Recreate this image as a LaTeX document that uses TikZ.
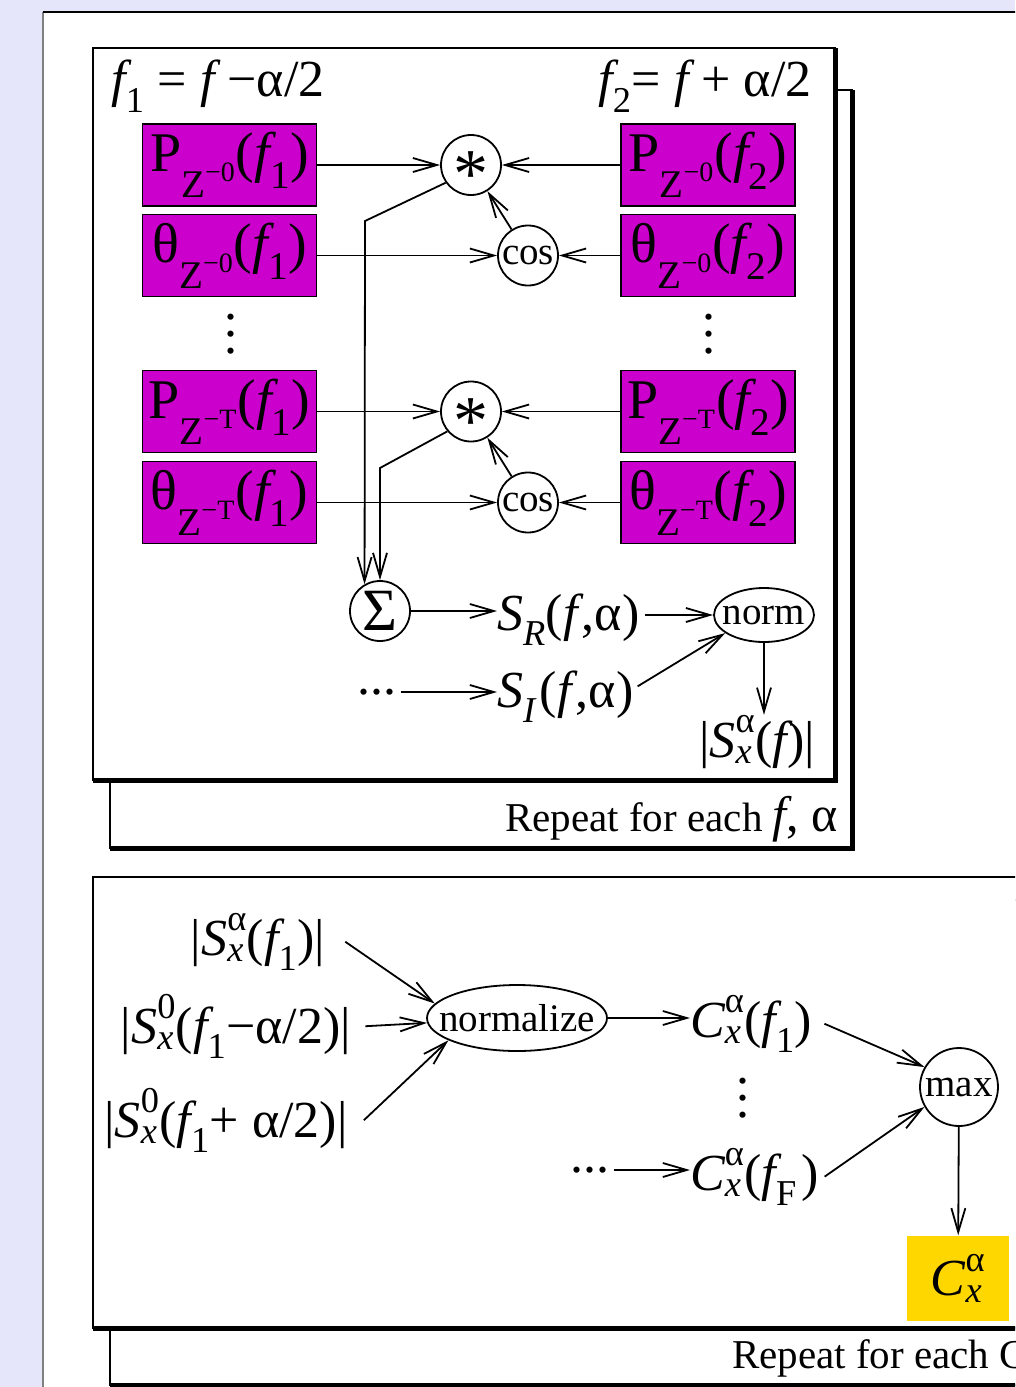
\documentclass[tikz,border=0pt]{standalone}
\usepackage{amsmath}
\usepackage{fontspec}
\setmainfont{Liberation Serif}
\usetikzlibrary{arrows.meta, positioning, shapes.geometric}

\definecolor{slidebg}{RGB}{230,230,250}
\definecolor{boxmag}{RGB}{204,0,204}
\definecolor{boxgold}{RGB}{255,215,0}

\newcommand{\vi}[1]{\text{\itshape #1}}
\newcommand{\vr}[1]{\text{\upshape #1}}
\newcommand{\vdts}{\vbox{\baselineskip=17pt\lineskiplimit=0pt\hbox{.}\hbox{.}\hbox{.}}}
\newcommand{\hdts}{...}
\newcommand{\astk}{\fontsize{70}{72}\selectfont\smash{\raisebox{-0.47em}{*}}}

\tikzset{
  bigtxt/.style={font=\fontsize{52}{60}\selectfont, inner sep=0pt},
  smalltxt/.style={font=\fontsize{39}{44}\selectfont},
  magbox/.style={draw, fill=boxmag, line width=1.8pt, minimum width=174pt, minimum height=82pt, bigtxt, font=\fontsize{56}{60}\selectfont},
  opcirc/.style={draw, circle, line width=1.8pt, minimum size=60pt, inner sep=0pt, smalltxt},
  opoval/.style={draw, ellipse, line width=1.8pt, inner sep=0pt},
  flow/.style={-{Straight Barb[length=24pt,width=14pt]}, line width=1.8pt},
  sheet/.style={line width=2pt},
  sheetedge/.style={line width=5pt},
}

\begin{document}
\begin{tikzpicture}[x=1pt, y=-1pt]
\useasboundingbox (0,0) rectangle (1015,1387);
\clip (0,0) rectangle (1015,1387);
% slide background
\fill[slidebg] (0,0) rectangle (1015,1387);
\fill[white] (43,12) rectangle (1030,1400);
\draw[gray, line width=1.5pt] (43,1400) -- (43,12);
\draw[line width=2pt] (43,12) -- (1030,12);

% upper sheet stack
\draw[sheet, fill=white] (110,90) rectangle (852,848);
\draw[sheetedge] (852,90) -- (852,848) -- (110,848);
\draw[sheet, fill=white] (93,48) rectangle (835,780);
\draw[sheetedge] (835,48) -- (835,780) -- (93,780);

% lower sheet stack
\draw[sheet, fill=white] (110,900) rectangle (1100,1385);
\draw[sheetedge] (110,1385) -- (1100,1385);
\draw[sheet, fill=white] (93,877) rectangle (1100,1328);
\draw[sheetedge] (93,1328) -- (1100,1328);

% frequency definitions
\node[bigtxt] (f1def) at (218,86) {$\vi{f}_{\vr{1}}\vr{ = }\vi{f}\vr{ −α/2}$};
\node[bigtxt] (f2def) at (705,86) {$\vi{f}_{\vr{2}}\vr{= }\vi{f}\vr{ + α/2}$};

% magnitude and phase boxes
\foreach \nm/\yy/\sym/\idx in {pa/165/P/0, ta/255.5/θ/0, pb/411.5/P/T, tb/502.5/θ/T}{
  \node[magbox] (\nm1) at (229.5,\yy) {$\vr{\sym}_{\vr{Z}^{\vr{−\idx}}}\vr{(}\vi{f}_{\vr{1}}\vr{)}$};
  \node[magbox] (\nm2) at (708,\yy) {$\vr{\sym}_{\vr{Z}^{\vr{−\idx}}}\vr{(}\vi{f}_{\vr{2}}\vr{)}$};
}
\node[bigtxt] (vdl) at (231,334) {\vdts};
\node[bigtxt] (vdr) at (709,334) {\vdts};

% products
\node[opcirc] (mula) at (471,165) {\astk};
\node[opcirc] (cosa) at (528,255.5) {cos};
\node[opcirc] (mulb) at (471,411.5) {\astk};
\node[opcirc] (cosb) at (528,502.5) {cos};
\foreach \s in {a,b}{
  \draw[flow] (p\s1) -- (mul\s);
  \draw[flow] (p\s2) -- (mul\s);
  \draw[flow] (t\s1) -- (cos\s);
  \draw[flow] (t\s2) -- (cos\s);
  \draw[flow] (cos\s) -- (mul\s);
}

% sum and norm
\node[opcirc, font=\fontsize{60}{64}\selectfont] (sum) at (380,611) {Σ};
\coordinate (benda) at (365,221);
\coordinate (bendb) at (380,468);
\draw[flow] (mula.215) -- (benda) -- (sum.120);
\draw[flow] (mulb.220) -- (bendb) -- (sum.north);

\node[bigtxt, anchor=base west] (sr) at (497,630) {$\vi{S}_{\vi{R}}\vr{(}\vi{f}\,\vr{,α)}$};
\node[bigtxt, anchor=base west] (si) at (497,707) {$\vi{S}_{\vi{I}}\,\vr{(}\vi{f}\,\vr{,α)}$};
\node[bigtxt] (dotsi) at (377,692) {\hdts};
\node[opoval, minimum width=100pt, minimum height=54pt, label={[smalltxt]center:norm}] (norm) at (764,615) {};
\node[bigtxt, anchor=base] (sxf) at (757,757) {$\vr{|}\vi{S}^{\vr{α}}_{\vi{x}}\vr{(}\vi{f}\vr{)|}$};
\node[anchor=base east, inner sep=0pt] (rep1) at (838,831) {\fontsize{41}{48}\selectfont Repeat for each \fontsize{50}{56}\selectfont\textit{f}, α};

\draw[flow] (sum) -- (sum -| sr.west);
\draw[flow, shorten <=4pt] (dotsi.east) -- (dotsi.east -| si.west);
\draw[flow, shorten <=5pt] (norm.west -| sr.east) -- (norm.west);
\draw[flow] ([xshift=4pt,yshift=10pt]si.east) -- (norm.205);
\draw[flow] (norm.south) -- (norm.south |- sxf.north);

% normalisation and maximum
\node[bigtxt, anchor=base] (sa) at (258,955) {$\vr{|}\vi{S}^{\vr{α}}_{\vi{x}}\vr{(}\vi{f}_{\vr{1}}\vr{)|}$};
\node[bigtxt, anchor=base] (sm) at (236,1043) {$\vr{|}\vi{S}^{\vr{0}}_{\vi{x}}\vr{(}\vi{f}_{\vr{1}}\vr{−α/2)|}$};
\node[bigtxt, anchor=base] (sp) at (226,1137) {$\vr{|}\vi{S}^{\vr{0}}_{\vi{x}}\vr{(}\vi{f}_{\vr{1}}\vr{+ α/2)|}$};
\node[opoval, minimum width=180pt, minimum height=66pt, label={[smalltxt]center:normalize}] (nrm) at (517,1018) {};
\node[bigtxt, anchor=base west] (cf1) at (690,1037) {$\vi{C}^{\vr{α}}_{\vi{x}}\vr{(}\vi{f}_{\vr{1}}\vr{)}$};
\node[bigtxt] (vdc) at (743,1098) {\vdts};
\node[bigtxt] (dotsf) at (590,1170) {\hdts};
\node[bigtxt, anchor=base west] (cff) at (690,1190) {$\vi{C}^{\vr{α}}_{\vi{x}}\vr{(}\vi{f}_{\vr{F}}\,\vr{)}$};
\node[opcirc, minimum size=78pt] (max) at (959,1087) {max};
\node[fill=boxgold, minimum width=102pt, minimum height=85pt, bigtxt] (cx) at (958,1278) {$\vi{C}^{\vr{α}}_{\vi{x}}$};
\node[anchor=base west, inner sep=0pt] (rep2) at (732,1368) {\fontsize{41}{48}\selectfont Repeat for each C};

\draw[flow] ([xshift=20pt]sa.east) -- (nrm.170);
\draw[flow] ([xshift=14pt]sm.east) -- (nrm);
\draw[flow] ([xshift=16pt]sp.east) -- (nrm.198);
\draw[flow] (nrm.east) -- (nrm.east -| cf1.west);
\draw[flow, shorten <=4pt] (dotsf.east) -- (dotsf.east -| cff.west);
\draw[flow] ([xshift=12pt]cf1.east) -- (max.150);
\draw[flow] ([xshift=6pt]cff.east) -- (max.210);
\draw[flow] (max) -- (cx);
\end{tikzpicture}
\end{document}
